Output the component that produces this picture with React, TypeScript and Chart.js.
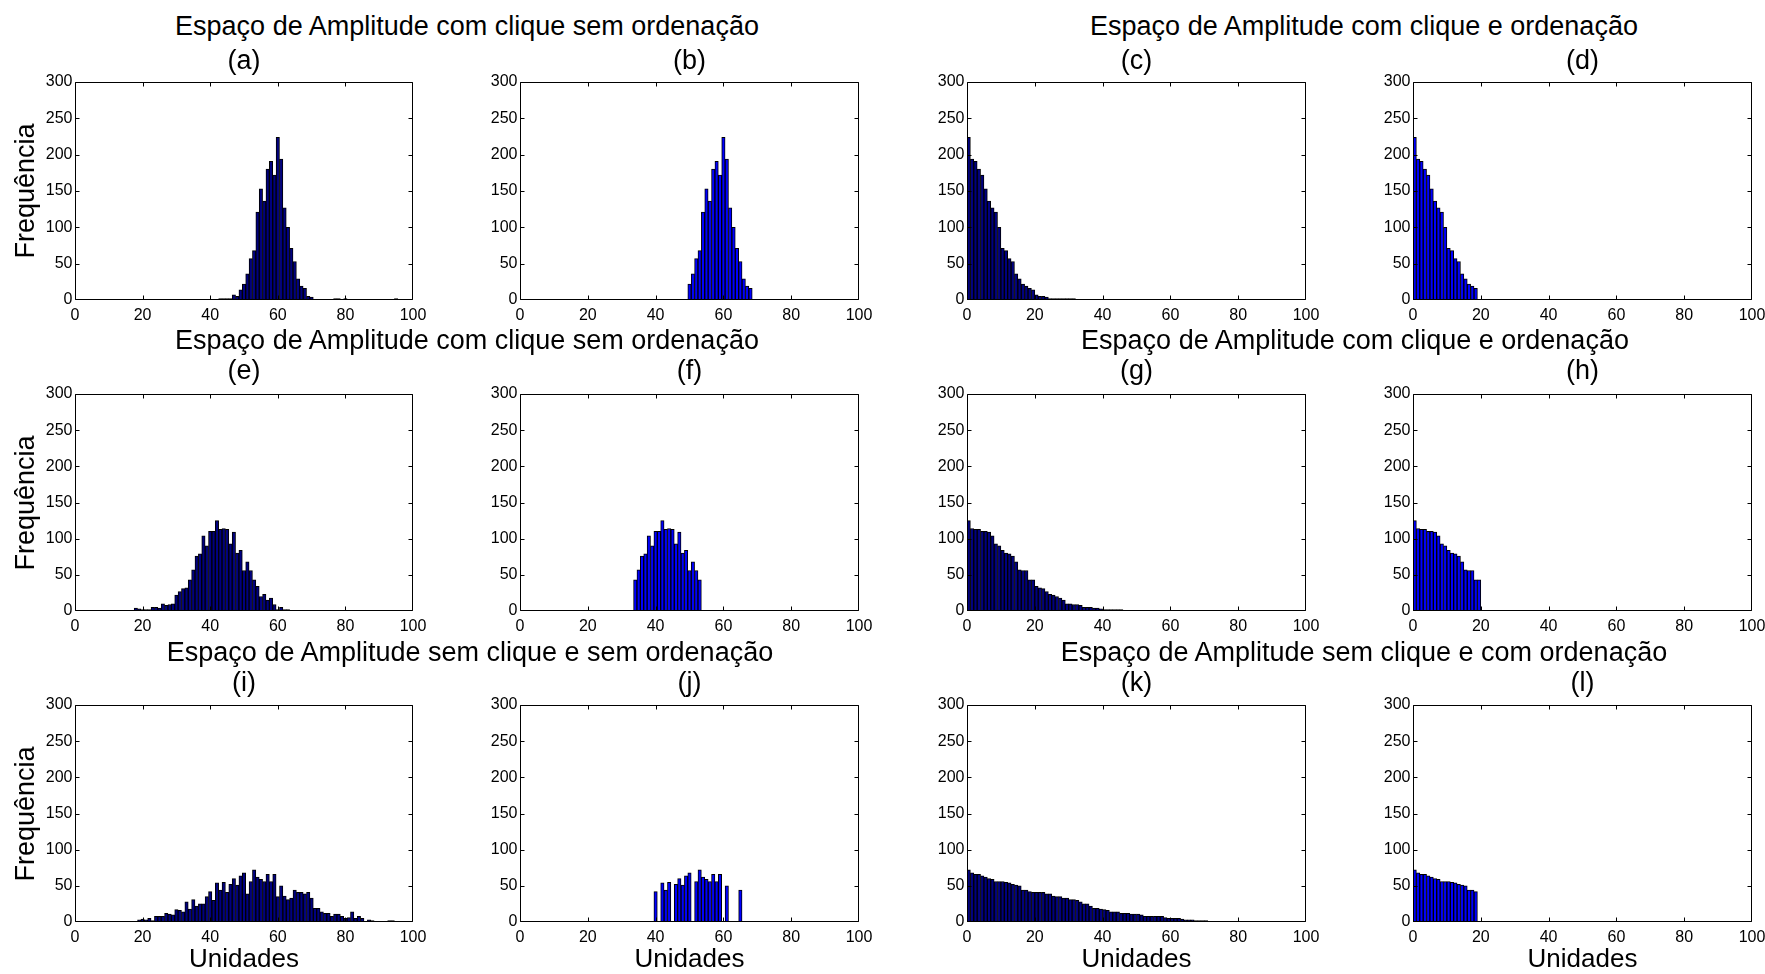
import React, { useEffect, useRef } from "react";
import { Chart, registerables } from "chart.js";

Chart.register(...registerables);

// ---------- axes ----------
const X_TICKS = [0, 20, 40, 60, 80, 100];
const Y_TICKS = [0, 50, 100, 150, 200, 250, 300];
const X_MAX = 100;
const Y_MAX = 300;

// ---------- row 1 : com clique ----------
const binsA = [32, 39, 43, 44, 45, 46, 47, 48, 49, 50, 51, 52, 53, 54, 55, 56, 57, 58, 59, 60, 61, 62, 63, 64, 65, 66, 67, 68, 69, 70, 72, 77, 78, 80, 95];
const countsA = [1, 1, 2, 2, 2, 2, 7, 5, 14, 22, 36, 57, 68, 121, 153, 136, 180, 191, 172, 224, 194, 127, 100, 71, 53, 29, 19, 16, 5, 4, 1, 2, 2, 2, 2];

const binsB = [50, 51, 52, 53, 54, 55, 56, 57, 58, 59, 60, 61, 62, 63, 64, 65, 66, 67, 68];
const countsB = [22, 36, 57, 68, 121, 153, 136, 180, 191, 172, 224, 194, 127, 100, 71, 53, 29, 19, 16];

const countsC = [224, 194, 191, 180, 172, 153, 136, 127, 121, 100, 71, 68, 57, 53, 36, 29, 22, 19, 16, 14, 7, 5, 5, 4, 2, 2, 2, 2, 2, 2, 2, 2, 1, 1, 1];
const countsD = [224, 194, 191, 180, 172, 153, 136, 127, 121, 100, 71, 68, 57, 53, 36, 29, 22, 19, 16];

// ---------- row 2 : com clique ----------
const binsE = [5, 17, 18, 19, 20, 21, 22, 23, 24, 25, 26, 27, 28, 29, 30, 31, 32, 33, 34, 35, 36, 37, 38, 39, 40, 41, 42, 43, 44, 45, 46, 47, 48, 49, 50, 51, 52, 53, 54, 55, 56, 57, 58, 59, 60, 61, 62, 63, 64, 67, 68, 72];
const countsE = [1, 1, 4, 3, 2, 2, 2, 5, 5, 4, 10, 8, 9, 10, 22, 27, 31, 32, 43, 57, 76, 79, 104, 90, 110, 110, 125, 113, 114, 113, 93, 109, 80, 84, 56, 68, 56, 43, 34, 20, 23, 15, 18, 9, 2, 5, 2, 2, 1, 1, 1, 1];

const binsF = [34, 35, 36, 37, 38, 39, 40, 41, 42, 43, 44, 45, 46, 47, 48, 49, 50, 51, 52, 53];
const countsF = [43, 57, 76, 79, 104, 90, 110, 110, 125, 113, 114, 113, 93, 109, 80, 84, 56, 68, 56, 43];

const countsG = [125, 114, 113, 113, 110, 110, 109, 104, 93, 90, 84, 80, 79, 76, 68, 57, 56, 56, 43, 43, 34, 32, 31, 27, 23, 22, 20, 18, 15, 10, 10, 9, 9, 8, 5, 5, 5, 4, 4, 3, 2, 2, 2, 2, 2, 2, 1, 1, 1, 1, 1, 1];
const countsH = [125, 114, 113, 113, 110, 110, 109, 104, 93, 90, 84, 80, 79, 76, 68, 57, 56, 56, 43, 43];

// ---------- row 3 : sem clique ----------
const binsI = [12, 16, 19, 20, 21, 22, 23, 24, 25, 26, 27, 28, 29, 30, 31, 32, 33, 34, 35, 36, 37, 38, 39, 40, 41, 42, 43, 44, 45, 46, 47, 48, 49, 50, 51, 52, 53, 54, 55, 56, 57, 58, 59, 60, 61, 62, 63, 64, 65, 66, 67, 68, 69, 70, 71, 72, 73, 74, 75, 76, 77, 78, 79, 80, 81, 82, 83, 84, 85, 87, 88, 89, 93, 94];
const countsI = [1, 1, 3, 4, 3, 5, 2, 8, 8, 8, 12, 11, 10, 17, 16, 14, 28, 18, 31, 22, 25, 25, 35, 42, 30, 54, 44, 55, 41, 52, 60, 51, 64, 68, 39, 56, 72, 62, 59, 56, 66, 56, 66, 35, 50, 36, 31, 33, 44, 41, 41, 39, 41, 33, 19, 19, 14, 12, 12, 8, 11, 11, 8, 5, 6, 14, 5, 8, 5, 3, 2, 1, 2, 2];

const binsJ = [40, 42, 43, 44, 46, 47, 48, 49, 50, 52, 53, 54, 55, 56, 57, 58, 59, 61, 65];
const countsJ = [42, 54, 44, 55, 52, 60, 51, 64, 68, 56, 72, 62, 59, 56, 66, 56, 66, 50, 44];

const countsK = [72, 68, 66, 66, 64, 62, 60, 59, 56, 56, 56, 55, 54, 52, 51, 50, 44, 44, 42, 41, 41, 41, 41, 39, 39, 36, 35, 35, 33, 33, 31, 31, 30, 28, 25, 25, 22, 19, 19, 18, 17, 16, 14, 14, 14, 12, 12, 12, 11, 11, 11, 10, 8, 8, 8, 8, 8, 8, 6, 5, 5, 5, 5, 4, 3, 3, 3, 2, 2, 2, 2, 1, 1, 1];
const countsL = [72, 68, 66, 66, 64, 62, 60, 59, 56, 56, 56, 55, 54, 52, 51, 50, 44, 44, 42];

// ---------- texts ----------
const panelLetters = ["(a)", "(b)", "(c)", "(d)", "(e)", "(f)", "(g)", "(h)", "(i)", "(j)", "(k)", "(l)"];
const groupTitles = [
  "Espaço de Amplitude com clique sem ordenação",
  "Espaço de Amplitude com clique e ordenação",
  "Espaço de Amplitude com clique sem ordenação",
  "Espaço de Amplitude com clique e ordenação",
  "Espaço de Amplitude sem clique e sem ordenação",
  "Espaço de Amplitude sem clique e com ordenação",
];
const yLabel = "Frequência";
const xLabel = "Unidades";

// ---------- styles / layout ----------
const NAVY = "#000080";
const BLUE = "#0000FF";
const FONT = '"Liberation Sans", Arial, Helvetica, sans-serif';
const COL_LEFT = [75, 520, 967, 1413];
const COL_W = [338, 339, 339, 339];
const ROW_TOP = [82, 394, 705];
const ROW_H = [218, 217, 217];
const PAD = { left: 46, right: 26, top: 12, bottom: 32 };

const rank = (arr: number[]) => arr.map((_, i) => i + 0.5);

const panels = [
  { xs: binsA, ys: countsA, fill: NAVY },
  { xs: binsB, ys: countsB, fill: BLUE },
  { xs: rank(countsC), ys: countsC, fill: NAVY },
  { xs: rank(countsD), ys: countsD, fill: BLUE },
  { xs: binsE, ys: countsE, fill: NAVY },
  { xs: binsF, ys: countsF, fill: BLUE },
  { xs: rank(countsG), ys: countsG, fill: NAVY },
  { xs: rank(countsH), ys: countsH, fill: BLUE },
  { xs: binsI, ys: countsI, fill: NAVY },
  { xs: binsJ, ys: countsJ, fill: BLUE },
  { xs: rank(countsK), ys: countsK, fill: NAVY },
  { xs: rank(countsL), ys: countsL, fill: BLUE },
];

const matlabAxes = {
  id: "matlabAxes",
  afterDatasetsDraw(chart: any) {
    const { ctx, chartArea: a, scales } = chart;
    const xs = scales.x;
    const ys = scales.y;
    const L = Math.round(a.left) + 0.5;
    const R = Math.round(a.right) - 0.5;
    const T = Math.round(a.top) + 0.5;
    const B = Math.round(a.bottom) - 0.5;
    const tl = 4;
    ctx.save();
    ctx.strokeStyle = "#000";
    ctx.lineWidth = 1;
    ctx.beginPath();
    ctx.rect(L, T, R - L, B - T);
    X_TICKS.forEach((v) => {
      const p = Math.round(xs.getPixelForValue(v)) + 0.5;
      const px = Math.min(Math.max(p, L), R);
      ctx.moveTo(px, B);
      ctx.lineTo(px, B - tl);
      ctx.moveTo(px, T);
      ctx.lineTo(px, T + tl);
    });
    Y_TICKS.forEach((v) => {
      const p = Math.round(ys.getPixelForValue(v)) + 0.5;
      const py = Math.min(Math.max(p, T), B);
      ctx.moveTo(L, py);
      ctx.lineTo(L + tl, py);
      ctx.moveTo(R, py);
      ctx.lineTo(R - tl, py);
    });
    ctx.stroke();
    ctx.fillStyle = "#000";
    ctx.font = `16px ${FONT}`;
    ctx.textAlign = "center";
    ctx.textBaseline = "middle";
    X_TICKS.forEach((v) => {
      ctx.fillText(String(v), xs.getPixelForValue(v), B + 16);
    });
    ctx.textAlign = "right";
    Y_TICKS.forEach((v) => {
      ctx.fillText(String(v), L - 3, ys.getPixelForValue(v));
    });
    ctx.restore();
  },
};

function Panel({ idx }: { idx: number }) {
  const ref = useRef<HTMLCanvasElement | null>(null);
  const col = idx % 4;
  const row = Math.floor(idx / 4);
  const w = COL_W[col];
  const h = ROW_H[row];
  const cw = w + PAD.left + PAD.right;
  const ch = h + PAD.top + PAD.bottom;
  useEffect(() => {
    const p = panels[idx];
    const chart = new Chart(ref.current as HTMLCanvasElement, {
      type: "bar",
      data: {
        datasets: [
          {
            data: p.xs.map((x, i) => ({ x, y: p.ys[i] })),
            backgroundColor: p.fill,
            borderColor: "#000",
            borderWidth: 1,
            borderSkipped: false,
            barPercentage: 1,
            categoryPercentage: 1,
          } as any,
        ],
      },
      options: {
        responsive: false,
        animation: false,
        devicePixelRatio: 1,
        layout: { padding: { left: PAD.left, right: PAD.right, top: PAD.top, bottom: PAD.bottom } },
        plugins: { legend: { display: false }, tooltip: { enabled: false }, title: { display: false } },
        scales: {
          x: { type: "linear", min: 0, max: X_MAX, display: false, offset: false, grid: { offset: false } },
          y: { type: "linear", min: 0, max: Y_MAX, display: false },
        },
      } as any,
      plugins: [matlabAxes],
    });
    return () => chart.destroy();
  }, [idx]);
  return (
    <canvas
      ref={ref}
      width={cw}
      height={ch}
      style={{ position: "absolute", left: COL_LEFT[col] - PAD.left, top: ROW_TOP[row] - PAD.top, width: cw, height: ch }}
    />
  );
}

function Label({ x, y, text, size, rotate }: { x: number; y: number; text: string; size: number; rotate?: boolean }) {
  return (
    <div
      style={{
        position: "absolute",
        left: x,
        top: y,
        transform: `translate(-50%, -50%)${rotate ? " rotate(-90deg)" : ""}`,
        whiteSpace: "nowrap",
        font: `${size}px ${FONT}`,
        lineHeight: 1,
        color: "#000",
      }}
    >
      {text}
    </div>
  );
}

export default function App() {
  const groupPos = [
    [467, 26], [1364, 26],
    [467, 340], [1355, 340],
    [470, 652], [1364, 652],
  ];
  const letterY = [60, 370, 682];
  return (
    <div style={{ position: "absolute", left: 0, top: 0, width: 1765, height: 974, background: "#fff", overflow: "hidden" }}>
      {panels.map((_, i) => (
        <Panel key={i} idx={i} />
      ))}
      {groupTitles.map((t, i) => (
        <Label key={"g" + i} x={groupPos[i][0]} y={groupPos[i][1]} text={t} size={27} />
      ))}
      {panelLetters.map((t, i) => {
        const col = i % 4;
        const row = Math.floor(i / 4);
        return <Label key={"l" + i} x={COL_LEFT[col] + COL_W[col] / 2} y={letterY[row]} text={t} size={27} />;
      })}
      {ROW_TOP.map((t, r) => (
        <Label key={"y" + r} x={25} y={t + ROW_H[r] / 2} text={yLabel} size={27} rotate />
      ))}
      {COL_LEFT.map((l, c) => (
        <Label key={"x" + c} x={l + COL_W[c] / 2} y={958} text={xLabel} size={26} />
      ))}
    </div>
  );
}
